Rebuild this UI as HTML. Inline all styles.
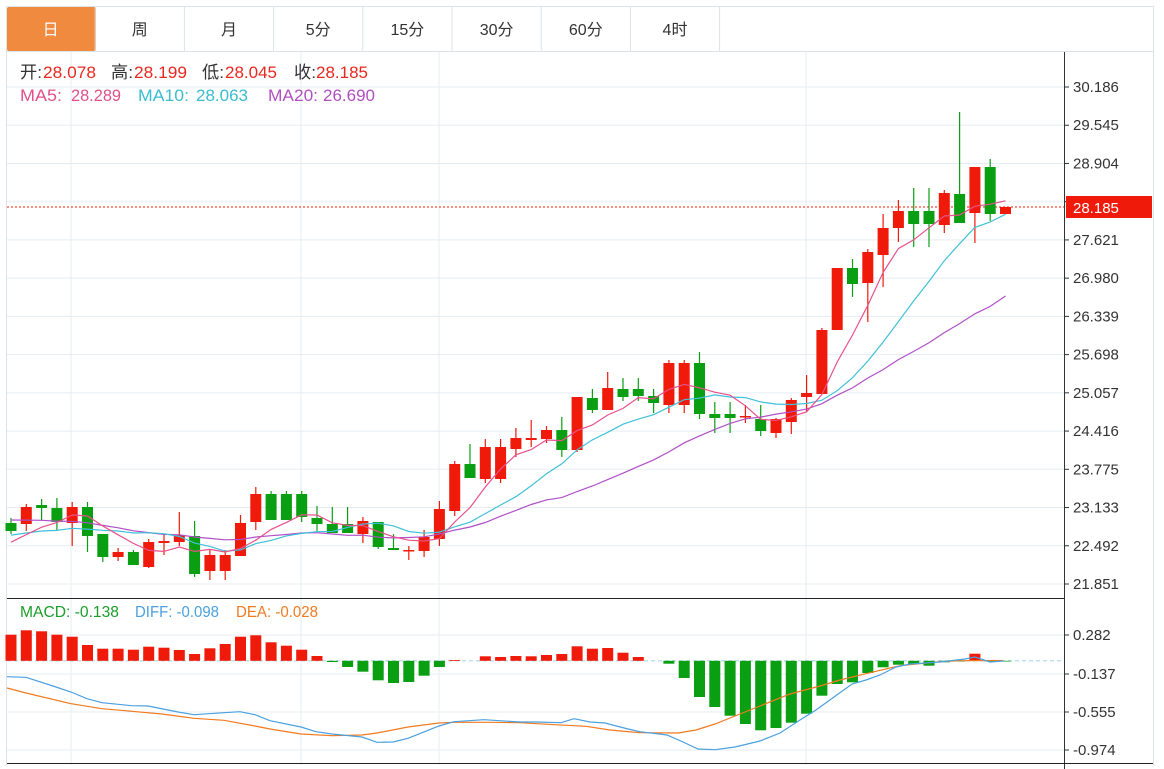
<!DOCTYPE html>
<html><head><meta charset="utf-8">
<style>
body{margin:0;background:#fff;width:1164px;height:769px;overflow:hidden;font-family:"Liberation Sans","Noto Sans CJK SC",sans-serif;}
svg{position:absolute;left:0;top:0}
</style></head><body>
<svg id="c" width="1164" height="769" xmlns="http://www.w3.org/2000/svg" font-family="Liberation Sans, Noto Sans CJK SC, sans-serif"></svg>
<script>
const S=document.getElementById('c');let h='';
function L(x1,y1,x2,y2,c,w,extra){h+=`<line x1="${x1}" y1="${y1}" x2="${x2}" y2="${y2}" stroke="${c}" stroke-width="${w||1}" ${extra||''}/>`;}
function R(x,y,w,hh,c){h+=`<rect x="${x}" y="${y}" width="${w}" height="${hh}" fill="${c}"/>`;}
function T(x,y,t,c,s,a){h+=`<text x="${x}" y="${y}" fill="${c}" font-size="${s||15}" ${a||''}>${t}</text>`;}
const tabs=['日','周','月','5分','15分','30分','60分','4时'];
L(6,6.5,1153,6.5,'#dde2e6');L(6,51.5,1153,51.5,'#dde2e6');L(6.5,6,6.5,765,'#dde2e6');L(1153.5,6,1153.5,765,'#dde2e6');
tabs.forEach((t,i)=>{const x=6+i*89.2;if(i==0){h+=`<rect x="7" y="7" width="89" height="44" rx="2" fill="#f08a3e"/>`;}
L(x+89.2,6,x+89.2,51,'#dde2e6');T(x+44.6,35,t,i==0?'#fff':'#333',16,'text-anchor="middle"');});
const GC='#e5edf3';
for(let k=0;k<14;k++){const y=87+k*38.23;L(7,y,1064,y,GC);}
[635,674,712,750].forEach(y=>L(7,y,1064,y,GC));
[71,301,439,806].forEach(x=>L(x,52,x,765,GC));
L(1064.5,52,1064.5,769,'#333');L(7,598.5,1064,598.5,'#222');L(7,763.5,1153,763.5,'#222');
const labs=['30.186','29.545','28.904','','27.621','26.980','26.339','25.698','25.057','24.416','23.775','23.133','22.492','21.851'];
labs.forEach((t,k)=>{const y=87+k*38.23;L(1064,y,1069,y,'#333');if(t)T(1073,y+5,t,'#333',15);});
[['0.282',635],['-0.137',674],['-0.555',712],['-0.974',750]].forEach(a=>{L(1064,a[1],1069,a[1],'#333');T(1073,a[1]+5,a[0],'#333',15);});
const D=[[523,531,518,534],[524,507,504,531],[505,508,499,520],[508,522,498,530],[523,507,502,546],[507,536,502,552],[534,557,534,562],[557,552,548,561],[552,565,550,565],[567,542,539,568],[543,541,535,555],[542,535,512,546],[536,574,521,577],[571,555,550,580],[571,555,550,580],[556,523,515,556],[522,494,487,530],[494,520,491,520],[494,520,491,520],[494,517,491,522],[518,524,506,531],[524,533,507,533],[524,533,507,533],[534,521,517,543],[522,547,522,549],[548,550,534,550],[550,550,546,560],[551,537,530,557],[539,509,501,546],[511,464,461,516],[464,478,444,478],[479,447,439,483],[479,447,439,483],[449,438,428,457],[440,438,420,447],[439,430,426,443],[430,450,417,457],[450,397,397,452],[398,410,389,413],[410,388,372,410],[389,397,378,401],[389,396,378,401],[396,403,389,413],[405,363,360,413],[405,363,360,413],[363,414,352,419],[414,418,402,433],[414,418,402,433],[417,416,405,423],[419,431,405,436],[433,419,418,438],[422,400,398,434],[397,393,375,412],[394,330,328,394],[330,268,268,330],[268,284,259,297],[283,252,249,322],[255,228,214,287],[228,211,200,242],[211,224,188,247],[211,224,188,247],[225,193,190,233],[194,223,112,223],[213,167,167,243],[167,214,159,221],[214,207,207,214]];
const X=i=>11+15.3*i;
const RED='#f01a0a',GRN='#0a9e12';
L(7,207,1064,207,'#f01a0a',1,'stroke-dasharray="2,2"');
D.forEach((d,i)=>{const x=X(i);const up=d[1]<=d[0];const c=up?RED:GRN;L(x,d[2],x,d[3],c,1.2);const t=Math.min(d[0],d[1]),b=Math.max(d[0],d[1]);R(x-5.5,t,11,Math.max(b-t,1.5),c);});
const closes=[];for(let i=0;i<10;i++)closes.push(505);for(let i=0;i<5;i++)closes.push(528);for(let i=0;i<4;i++)closes.push(545);D.forEach(d=>closes.push(d[1]));
function ma(n,col){let p=[];for(let i=0;i<D.length;i++){let s=0;for(let k=0;k<n;k++)s+=closes[19+i-k];p.push(X(i).toFixed(1)+','+(s/n).toFixed(1));}h+=`<polyline points="${p.join(' ')}" fill="none" stroke="${col}" stroke-width="1.2"/>`;}
ma(20,'#b050c8');ma(10,'#40c0d8');ma(5,'#e8508a');
R(1066,196,86,22,'#f01a0a');T(1073,213,'28.185','#fff',15);
const Z=660.8;
L(7,Z,1064,Z,'#a8d8e8',1.2,'stroke-dasharray="4,3"');
const M=[634.7,630.3,631.3,634.7,636.7,645,648.7,648.7,649.7,646.7,647.7,650,654,648.3,644,636.7,635.3,642.3,645.7,649.7,656,662,667,671.7,680.3,683,682,675.7,667,660,660.8,656.3,657,656,656.3,655,654,646.3,648.7,648,652.7,657,660.8,663.7,678,697,707,715.7,724,730.3,728,722.7,713.7,695.7,684,682.3,673,667.3,664.7,664,665.7,662.3,661.5,653.7,661.5,661.5];
M.forEach((y,i)=>{const x=X(i);if(Math.abs(y-Z)<0.3)return;const c=y<Z?RED:GRN;R(x-5.5,Math.min(y,Z),11,Math.abs(y-Z),c);});
const DIFF=[[7,676.7],[26,677.3],[56,687],[71,692],[87,698.7],[102,702.7],[132,705.7],[148,706],[178,712],[194,714.7],[224,712.7],[240,711.7],[255,714.7],[270,720.7],[301,727],[316,731.7],[332,734],[362,737],[377,742.3],[393,742],[408,738.3],[439,726],[454,721.7],[484,719.7],[520,722],[536,722],[561,722.7],[574,718.7],[590,722],[605,723],[628,729],[640,731.7],[667,735],[683,742],[698,749],[715,749.7],[735,747],[760,741],[780,733],[800,720],[816,710],[834,697],[852,684],[866,680],[880,675],[896,667],[910,664],[940,662],[965,659],[975,657],[990,662],[1003,661]];
const DEA=[[7,688],[26,693],[71,703.7],[102,708.7],[132,711.3],[162,714],[194,718.3],[224,720.3],[255,726],[270,729],[301,734],[332,735.7],[362,735],[377,733],[408,727],[439,723],[454,722.3],[490,722.3],[520,722.7],[555,724.7],[586,726.3],[610,730],[640,732.7],[678,733],[696,730],[715,724],[735,716],[760,706],[790,694],[820,686],[840,680],[870,672.7],[900,665.7],[940,661.7],[960,660.7],[1003,660.5]];
h+=`<polyline points="${DEA.map(p=>p.join(',')).join(' ')}" fill="none" stroke="#f07a20" stroke-width="1.2"/>`;
h+=`<polyline points="${DIFF.map(p=>p.join(',')).join(' ')}" fill="none" stroke="#4aa0e0" stroke-width="1.2"/>`;
const K='#333',RR='#e8281e';
function TL(x,y,t,c,s,w){h+=`<text x="${x}" y="${y}" fill="${c}" font-size="${s}" textLength="${w}" lengthAdjust="spacingAndGlyphs">${t}</text>`;}
TL(20,78,'开:',K,17,22);TL(43,78,'28.078',RR,17,53);
TL(111,78,'高:',K,17,22);TL(134,78,'28.199',RR,17,53);
TL(202,78,'低:',K,17,22);TL(225,78,'28.045',RR,17,52);
TL(294,78,'收:',K,17,22);TL(316,78,'28.185',RR,17,52);
TL(20,101,'MA5:',  '#e0508a',17,42);TL(71,101,'28.289','#e0508a',17,50);
TL(138,101,'MA10:','#3bbcd0',17,51);TL(196,101,'28.063','#3bbcd0',17,52);
TL(268,101,'MA20:','#b050c0',17,50);TL(323,101,'26.690','#b050c0',17,52);
TL(20,617,'MACD: -0.138','#1a9e2a',16,99);
TL(135,617,'DIFF: -0.098','#4aa0e0',16,84);
TL(236,617,'DEA: -0.028','#f07a20',16,82);
S.innerHTML=h;
</script>
</body></html>
